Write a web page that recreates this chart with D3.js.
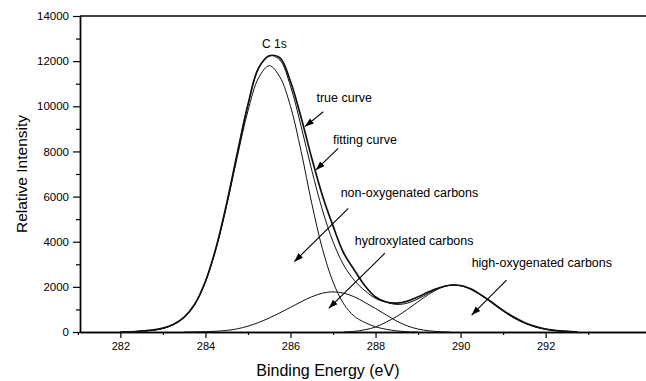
<!DOCTYPE html>
<html>
<head>
<meta charset="utf-8">
<script src="https://d3js.org/d3.v7.min.js"></script>
<style>
  body { margin: 0; background: #fff; }
  text { font-family: "Liberation Sans", Arial, sans-serif; fill: #000; }
</style>
</head>
<body>
<div id="chart"></div>
<script>
// binding energy grid (eV), one entry per sample
var energy = [282.0, 282.25, 282.5, 282.75, 283.0, 283.25, 283.5, 283.75, 284.0, 284.25,
  284.5, 284.75, 285.0, 285.25, 285.5, 285.75, 286.0, 286.25, 286.5, 286.75,
  287.0, 287.25, 287.5, 287.75, 288.0, 288.25, 288.5, 288.75, 289.0, 289.25,
  289.5, 289.75, 290.0, 290.25, 290.5, 290.75, 291.0, 291.25, 291.5, 291.75,
  292.0, 292.25, 292.5, 292.75];

// measured spectrum (outer line)
var trueCurve = [0, 10, 40, 80, 170, 340, 660, 1240, 2250, 3740,
  5700, 7930, 10080, 11700, 12230, 12150, 11100, 9500, 7700, 6050,
  4700, 3500, 2750, 2050, 1550, 1330, 1280, 1370, 1560, 1780,
  1960, 2070, 2060, 1900, 1620, 1300, 960, 660, 420, 250,
  130, 60, 25, 0];

// sum of the fitted components
var fittingCurve = [0, 10, 40, 75, 160, 330, 650, 1225, 2235, 3725,
  5680, 7910, 10060, 11680, 12250, 12050, 10890, 9110, 7170, 5410,
  4000, 2970, 2290, 1830, 1490, 1320, 1220, 1280, 1470, 1725,
  1945, 2070, 2050, 1890, 1610, 1270, 930, 630, 400, 230,
  125, 60, 30, 0];

// fitted components (null = not drawn there)
var nonOxygenated = [0, 10, 40, 75, 160, 330, 650, 1220, 2220, 3690,
  5610, 7770, 9800, 11260, 11800, 11300, 10000, 8000, 5700, 3690,
  2220, 1250, 700, 420, 230, 120, 50, 10, 0, null,
  null, null, null, null, null, null, null, null, null, null,
  null, null, null, null];

var hydroxylated = [null, null, null, null, null, null, 0, 5, 15, 35,
  70, 140, 260, 420, 620, 850, 1090, 1340, 1560, 1720,
  1780, 1720, 1560, 1310, 1040, 760, 480, 270, 130, 55,
  15, 0, null, null, null, null, null, null, null, null,
  null, null, null, null];

var highOxygenated = [null, null, null, null, null, null, null, null, null, null,
  null, null, null, null, null, null, null, null, null, null,
  null, 0, 30, 100, 220, 440, 690, 1000, 1340, 1670,
  1930, 2070, 2050, 1890, 1610, 1270, 930, 630, 400, 230,
  125, 60, 30, 0];

// tick values
var xMajorTicks = [282, 284, 286, 288, 290, 292];
var xMinorTicks = [281, 283, 285, 287, 289, 291, 293];
var yMajorTicks = [0, 2000, 4000, 6000, 8000, 10000, 12000, 14000];
var yMinorTicks = [1000, 3000, 5000, 7000, 9000, 11000, 13000];

// annotation texts
var peakLabel = "C 1s";
var curveLabels = ["true curve", "fitting curve", "non-oxygenated carbons",
  "hydroxylated carbons", "high-oxygenated carbons"];

// Define SVG area dimensions
var svgWidth = 646;
var svgHeight = 381;

var chartMargin = { top: 16, right: 0, bottom: 49, left: 80 };
var chartWidth = svgWidth - chartMargin.left - chartMargin.right;
var chartHeight = svgHeight - chartMargin.top - chartMargin.bottom;

var svg = d3.select("#chart")
  .append("svg")
  .attr("width", svgWidth)
  .attr("height", svgHeight);

var defs = svg.append("defs");
defs.append("marker")
  .attr("id", "arrow")
  .attr("viewBox", "0 -4 9 8")
  .attr("refX", 9)
  .attr("refY", 0)
  .attr("markerUnits", "userSpaceOnUse")
  .attr("markerWidth", 9)
  .attr("markerHeight", 8)
  .attr("orient", "auto")
  .append("path")
  .attr("d", "M0,-3.2L9,0L0,3.2Z")
  .attr("fill", "#000");

var chartGroup = svg.append("g")
  .attr("transform", `translate(${chartMargin.left}, ${chartMargin.top})`);

// scales
var xScale = d3.scaleLinear()
  .domain([281.05, 294.36])
  .range([0, chartWidth]);

var yScale = d3.scaleLinear()
  .domain([0, 14000])
  .range([chartHeight, 0]);

// axes
var bottomAxis = d3.axisBottom(xScale)
  .tickValues(xMajorTicks)
  .tickSize(6)
  .tickSizeOuter(0)
  .tickPadding(4)
  .tickFormat(d3.format("d"));

var bottomMinor = d3.axisBottom(xScale)
  .tickValues(xMinorTicks)
  .tickSize(3)
  .tickSizeOuter(0)
  .tickFormat("");

var leftAxis = d3.axisLeft(yScale)
  .tickValues(yMajorTicks)
  .tickSize(7)
  .tickSizeOuter(0)
  .tickPadding(4)
  .tickFormat(d3.format("d"));

var leftMinor = d3.axisLeft(yScale)
  .tickValues(yMinorTicks)
  .tickSize(4)
  .tickSizeOuter(0)
  .tickFormat("");

var xAxisG = chartGroup.append("g")
  .attr("transform", `translate(0, ${chartHeight})`)
  .call(bottomAxis);
xAxisG.selectAll("text").style("font-size", "11px");

chartGroup.append("g")
  .attr("transform", `translate(0, ${chartHeight})`)
  .call(bottomMinor);

var yAxisG = chartGroup.append("g").call(leftAxis);
yAxisG.selectAll("text").style("font-size", "11.5px");

chartGroup.append("g").call(leftMinor);

chartGroup.selectAll(".domain")
  .attr("stroke", "#000")
  .attr("stroke-width", 1.4);
chartGroup.selectAll(".tick line")
  .attr("stroke", "#000")
  .attr("stroke-width", 1.2);

// top frame line
chartGroup.append("line")
  .attr("x1", xScale(281.05))
  .attr("x2", xScale(294.36))
  .attr("y1", yScale(14000))
  .attr("y2", yScale(14000))
  .attr("stroke", "#000")
  .attr("stroke-width", 1.6);

// curves
function drawCurve(values, width) {
  var line = d3.line()
    .defined(d => d[1] !== null)
    .x(d => xScale(d[0]))
    .y(d => yScale(d[1]))
    .curve(d3.curveCatmullRom.alpha(0.5));
  chartGroup.append("path")
    .datum(energy.map((e, i) => [e, values[i]]))
    .attr("fill", "none")
    .attr("stroke", "#111")
    .attr("stroke-width", width)
    .attr("d", line);
}

drawCurve(nonOxygenated, 1);
drawCurve(hydroxylated, 1);
drawCurve(highOxygenated, 1);
drawCurve(fittingCurve, 1);
drawCurve(trueCurve, 1.7);

// axis titles
svg.append("text")
  .attr("x", chartMargin.left + xScale(286.88))
  .attr("y", 376)
  .attr("text-anchor", "middle")
  .style("font-size", "16px")
  .text("Binding Energy (eV)");

svg.append("text")
  .attr("transform", `translate(27, ${chartMargin.top + yScale(7000)}) rotate(-90)`)
  .attr("text-anchor", "middle")
  .style("font-size", "15.5px")
  .text("Relative Intensity");

// annotations, placed in data units
chartGroup.append("text")
  .attr("x", xScale(285.33))
  .attr("y", yScale(12570))
  .style("font-size", "12px")
  .text(peakLabel);

var labelSpots = [
  { tx: 286.61, ty: 10200, from: [286.77, 9760], to: [286.34, 9100] },
  { tx: 287.0, ty: 8330, from: [287.12, 8140], to: [286.60, 7180] },
  { tx: 287.18, ty: 5970, from: [287.36, 5480], to: [286.09, 3115] },
  { tx: 287.51, ty: 3855, from: [288.22, 3490], to: [286.90, 1050] },
  { tx: 290.26, ty: 2890, from: [291.08, 2300], to: [290.26, 750] }
];

labelSpots.forEach(function(s, i) {
  chartGroup.append("text")
    .attr("x", xScale(s.tx))
    .attr("y", yScale(s.ty))
    .style("font-size", "12.5px")
    .text(curveLabels[i]);

  chartGroup.append("line")
    .attr("x1", xScale(s.from[0]))
    .attr("y1", yScale(s.from[1]))
    .attr("x2", xScale(s.to[0]))
    .attr("y2", yScale(s.to[1]))
    .attr("stroke", "#000")
    .attr("stroke-width", 1.1)
    .attr("marker-end", "url(#arrow)");
});
</script>
</body>
</html>
